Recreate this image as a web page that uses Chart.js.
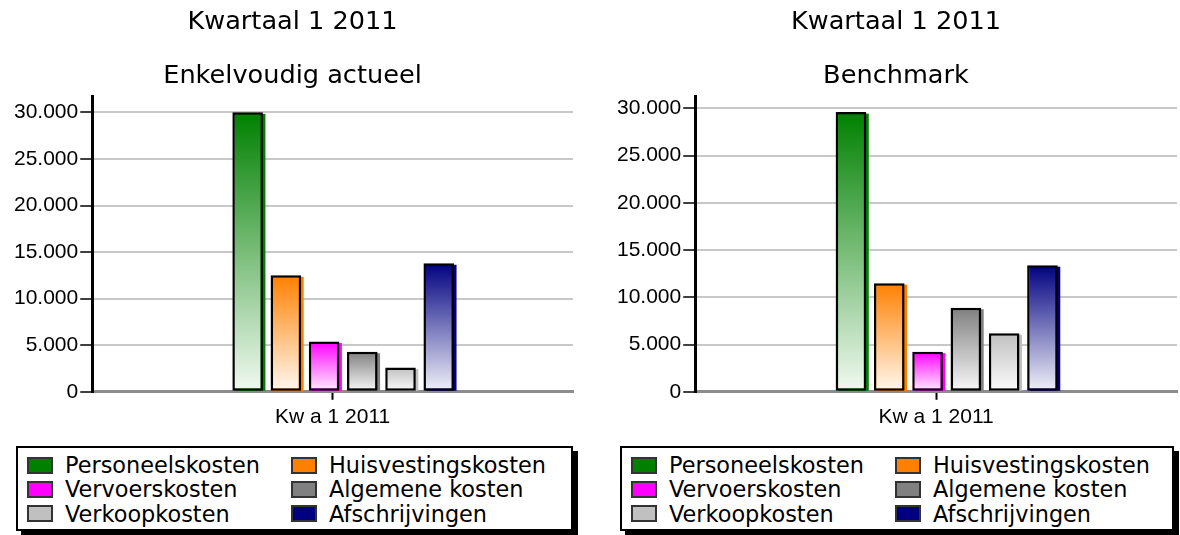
<!DOCTYPE html>
<html>
<head>
<meta charset="utf-8">
<script src="https://cdn.jsdelivr.net/npm/chart.js@4"></script>
<style>
  body { margin: 0; background: #fff; width: 1180px; height: 535px; overflow: hidden; position: relative; font-family: 'DejaVu Sans', sans-serif; }
  canvas { position: absolute; top: 0; }
  .legend { position: absolute; top: 446px; height: 85px; box-sizing: border-box; border: 2px solid #000; box-shadow: 5px 5px 0 #000; background: #fff;
            padding: 5px 0 0 9px; display: grid; grid-template-columns: 264px auto; grid-auto-rows: 24.3px; font-size: 22.4px; line-height: 24.3px; color: #000; }
  .item { display: flex; align-items: center; white-space: nowrap; }
  .sw { width: 26px; height: 17px; box-sizing: border-box; border: 2px solid #333; margin-right: 12px; flex: none; }
</style>
</head>
<body>
<canvas id="chart-actueel" width="578" height="440" style="left:0"></canvas>
<canvas id="chart-benchmark" width="577" height="440" style="left:603px"></canvas>
<div class="legend" id="legend-actueel" style="left:16px; width:557px"></div>
<div class="legend" id="legend-benchmark" style="left:620px; width:554px"></div>
<script>
const categories = ['Kw a 1 2011'];
const seriesNames = ['Personeelskosten', 'Huisvestingskosten', 'Vervoerskosten', 'Algemene kosten', 'Verkoopkosten', 'Afschrijvingen'];
const seriesColors = ['#008000', '#ff8000', '#ff00ff', '#808080', '#c0c0c0', '#000080'];
const actueelValues = [30000, 12500, 5400, 4300, 2600, 13800];
const benchmarkValues = [29600, 11500, 4250, 8900, 6200, 13400];
const yTickValues = [0, 5000, 10000, 15000, 20000, 25000, 30000];

const mainTitle = 'Kwartaal 1 2011';

// mix a hex colour towards white
const fade = (hex, amount) => {
  const n = parseInt(hex.slice(1), 16);
  const ch = [n >> 16, (n >> 8) & 255, n & 255].map(c => Math.round(c + (255 - c) * amount));
  return `rgb(${ch.join(',')})`;
};

const formatNumber = (v) => String(v).replace(/\B(?=(\d{3})+(?!\d))/g, '.');

// vertical gradient per bar, full colour at the top, almost white at the base
const barGradient = (color) => (ctx) => {
  const chart = ctx.chart;
  if (ctx.type !== 'data' || !chart.chartArea) return color;
  const y = chart.scales.y;
  const top = y.getPixelForValue(ctx.raw);
  const base = y.getPixelForValue(0);
  if (!isFinite(top) || !isFinite(base) || top === base) return color;
  const g = chart.ctx.createLinearGradient(0, top, 0, base);
  g.addColorStop(0, color);
  g.addColorStop(1, fade(color, 0.95));
  return g;
};

// small coloured drop shadow to the right of every bar
const shadowPlugin = {
  id: 'barShadow',
  beforeDatasetsDraw(chart) {
    const c = chart.ctx;
    c.save();
    chart.data.datasets.forEach((ds, i) => {
      const meta = chart.getDatasetMeta(i);
      c.fillStyle = ds.shadowColor;
      meta.data.forEach(bar => {
        const { x, y, base, width } = bar.getProps(['x', 'y', 'base', 'width'], true);
        c.fillRect(x - width / 2 + 2.5, y + 1.5, width, base - y - 1.5);
      });
    });
    c.restore();
  }
};

const tickFont = { family: 'Liberation Sans', size: 21 };
const titleFont = { family: 'DejaVu Sans', size: 25.6, weight: 'normal' };

const makeChart = (id, subtitle, values, yMax) => {
  const datasets = seriesNames.map((name, i) => ({
    label: name,
    data: [values[i]],
    xAxisID: 'xb',
    backgroundColor: barGradient(seriesColors[i]),
    shadowColor: seriesColors[i],
    borderColor: '#000',
    borderWidth: 2.5,
    borderSkipped: false,
    categoryPercentage: 0.477,
    barPercentage: 0.8
  }));

  return new Chart(document.getElementById(id), {
    type: 'bar',
    data: { labels: categories.map((c, i) => i), datasets },
    options: {
      responsive: false,
      animation: false,
      events: [],
      layout: { padding: { left: 12, right: id === 'chart-actueel' ? 5 : 3, top: 0, bottom: 5 } },
      plugins: {
        legend: { display: false },
        tooltip: { enabled: false },
        title: { display: true, text: mainTitle, color: '#000', font: titleFont, padding: { top: 6.75, bottom: 12 } },
        subtitle: { display: true, text: subtitle, color: '#000', font: titleFont, padding: { top: 11.6, bottom: 5.2 } }
      },
      scales: {
        // hidden axis that places the bar group a little right of the tick
        xb: {
          type: 'linear', display: false, offset: false, min: -0.522, max: 0.478,
          afterBuildTicks: (s) => { s.ticks = []; }
        },
        x: {
          type: 'category', labels: categories, offset: true,
          grid: { display: true, offset: false, drawOnChartArea: false, drawTicks: true, tickLength: 8, tickColor: '#000', tickWidth: 2 },
          border: { display: true, color: '#8c8c8c', width: 3 },
          ticks: { color: '#000', font: tickFont, padding: 5, maxRotation: 0 }
        },
        y: {
          min: 0, max: yMax,
          afterBuildTicks: (s) => { s.ticks = yTickValues.map(v => ({ value: v })); },
          grid: { color: '#c8c8c8', lineWidth: 2, tickLength: 12, tickColor: '#000', tickWidth: 1.5 },
          border: { display: true, color: '#000', width: 3 },
          ticks: { color: '#000', font: tickFont, padding: 2, callback: (v) => formatNumber(v) }
        }
      }
    },
    plugins: [shadowPlugin]
  });
};

const buildLegend = (id) => {
  const box = document.getElementById(id);
  seriesNames.forEach((name, i) => {
    const item = document.createElement('div');
    item.className = 'item';
    const sw = document.createElement('span');
    sw.className = 'sw';
    sw.style.background = seriesColors[i];
    const txt = document.createElement('span');
    txt.textContent = name;
    item.appendChild(sw);
    item.appendChild(txt);
    box.appendChild(item);
  });
};

makeChart('chart-actueel', 'Enkelvoudig actueel', actueelValues, 31650);
makeChart('chart-benchmark', 'Benchmark', benchmarkValues, 31200);
buildLegend('legend-actueel');
buildLegend('legend-benchmark');
</script>
</body>
</html>
